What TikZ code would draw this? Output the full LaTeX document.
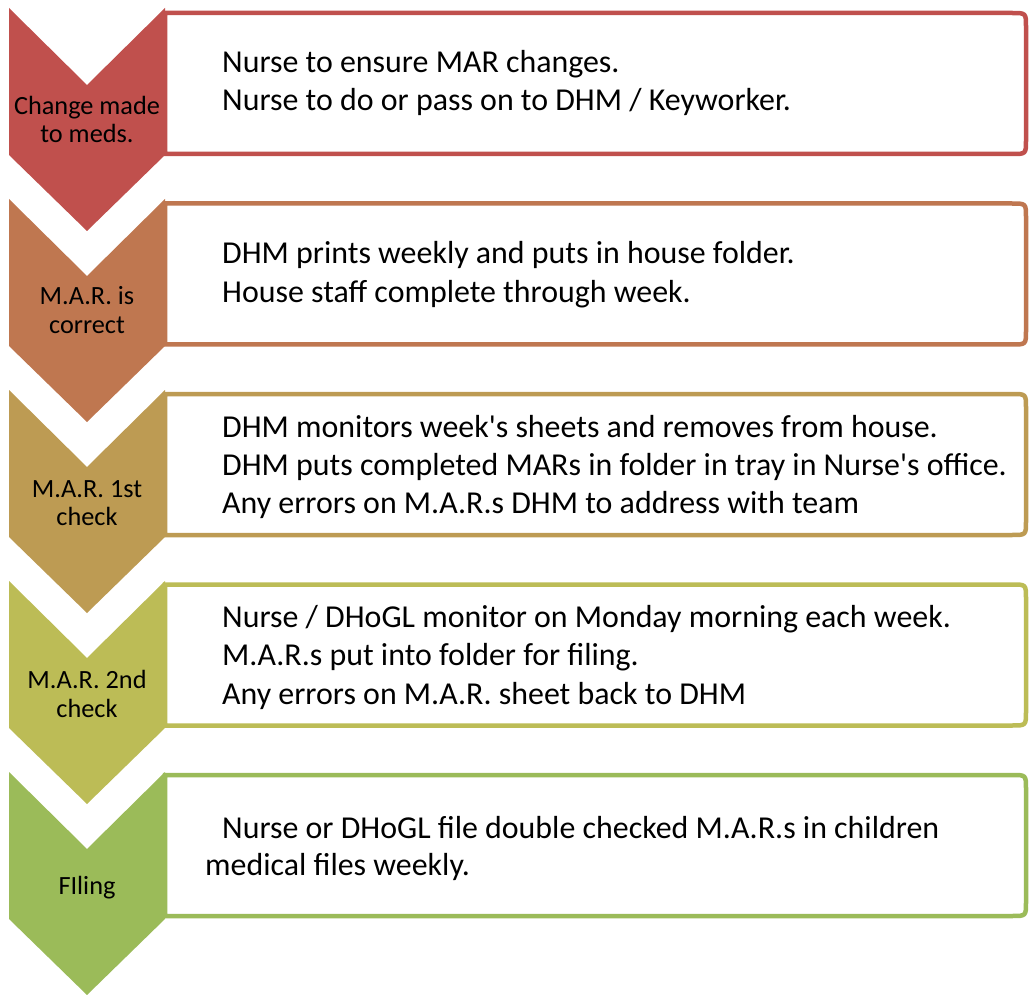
\documentclass[tikz,border=0pt]{standalone}
\usepackage{fontspec}
\setmainfont{Carlito}[Ligatures=TeXOff]
\definecolor{c1}{RGB}{192,80,77}
\definecolor{c2}{RGB}{191,119,80}
\definecolor{c3}{RGB}{189,155,83}
\definecolor{c4}{RGB}{188,188,86}
\definecolor{c5}{RGB}{155,187,89}
\begin{document}
\begin{tikzpicture}[x=1pt,y=-1pt,
  body/.style={anchor=base west,inner sep=0pt,font=\fontsize{31.9}{38}\selectfont},
  chev/.style={anchor=base,inner sep=0pt,font=\fontsize{26.3}{29}\selectfont},
  boxline/.style={line width=4.5pt,fill=white}]
\useasboundingbox (0,0) rectangle (1029,995);
% boxes
\foreach \i/\c in {0/c1,1/c2,2/c3,3/c4,4/c5}{
  \pgfmathsetmacro{\t}{13+190.5*\i}
  \pgfmathsetmacro{\b}{\t+141}
  \draw[boxline,draw=\c] (165,\t) -- (1012,\t) .. controls (1026,\t) .. (1026,\t+14)
     -- (1026,\b-14) .. controls (1026,\b) .. (1012,\b) -- (165,\b) -- cycle;
}
% chevrons
\foreach \i/\c in {0/c1,1/c2,2/c3,3/c4,4/c5}{
  \pgfmathsetmacro{\t}{8+191*\i}
  \fill[\c] (9,\t) -- (87,\t+77) -- (165,\t) -- (165,\t+147) -- (87,\t+223) -- (9,\t+147) -- cycle;
}
% chevron labels
\node[chev] (l1a) at (87,115) {Change made};
\node[chev] (l1b) at (87,143) {to meds.};
\node[chev] (l2a) at (87,305) {M.A.R. is};
\node[chev] (l2b) at (87,334) {correct};
\node[chev] (l3a) at (87,497) {M.A.R. 1st};
\node[chev] (l3b) at (87,525) {check};
\node[chev] (l4a) at (87,688) {M.A.R. 2nd};
\node[chev] (l4b) at (87,717) {check};
\node[chev] (l5a) at (87,894) {FIling};
% box texts
\node[body] (t1a) at (222,73) {Nurse to ensure MAR changes.};
\node[body] (t1b) at (222,111) {Nurse to do or pass on to DHM / Keyworker.};
\node[body] (t2a) at (222,264) {DHM prints weekly and puts in house folder.};
\node[body] (t2b) at (222,303) {House staff complete through week.};
\node[body] (t3a) at (222,437) {DHM monitors week's sheets and removes from house.};
\node[body] (t3b) at (222,475) {DHM puts completed MARs in folder in tray in Nurse's office.};
\node[body] (t3c) at (222,513) {Any errors on M.A.R.s DHM to address with team};
\node[body] (t4a) at (222,627) {Nurse / DHoGL monitor on Monday morning each week.};
\node[body] (t4b) at (222,665) {M.A.R.s put into folder for filing.};
\node[body] (t4c) at (222,704) {Any errors on M.A.R. sheet back to DHM};
\node[body] (t5a) at (222,838) {Nurse or DHoGL file double checked M.A.R.s in children};
\node[body] (t5b) at (205,875) {medical files weekly.};
\end{tikzpicture}
\end{document}
